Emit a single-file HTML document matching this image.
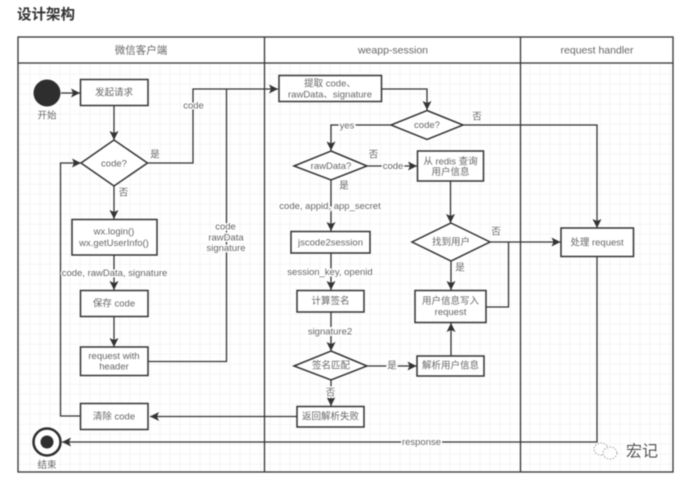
<!DOCTYPE html>
<html>
<head>
<meta charset="utf-8">
<style>
html,body{margin:0;padding:0;background:#fff;width:680px;height:481px;overflow:hidden}
svg{display:block;filter:blur(.55px)}
text{font-family:"Liberation Sans","Noto Sans CJK SC",sans-serif;font-size:9.5px;fill:#666;text-anchor:middle;dominant-baseline:central}
.l{fill:none;stroke:#333;stroke-width:1.3}
.n{fill:#fff;stroke:#333;stroke-width:1.5}
.h{font-size:10.5px}
.bg{stroke:#fff;stroke-width:3px;paint-order:stroke}
</style>
</head>
<body>
<svg width="680" height="481" viewBox="0 0 680 481" xmlns="http://www.w3.org/2000/svg">
<defs>
<pattern id="g" width="40" height="40" patternUnits="userSpaceOnUse" x="20" y="64">
<path d="M10 0V40M20 0V40M30 0V40M0 10H40M0 20H40M0 30H40" stroke="#f5f5f5" stroke-width="1" fill="none"/>
<path d="M0 0V40M0 0H40" stroke="#ececec" stroke-width="1" fill="none"/>
</pattern>
<marker id="a" markerUnits="userSpaceOnUse" markerWidth="10" markerHeight="10" refX="9" refY="4.5" orient="auto">
<path d="M0 0L9 4.5L0 9L2 4.5Z" fill="#333"/>
</marker>
</defs>

<text x="17" y="15.500" style="font-size:14.500px;font-weight:700;fill:#333;text-anchor:start">设计架构</text>

<rect x="18" y="63" width="655" height="409" fill="url(#g)"/>
<rect x="18" y="37" width="655" height="435" fill="none" stroke="#333" stroke-width="1.3"/>
<path d="M18 63H673M264.500 37V472M520.500 37V472" fill="none" stroke="#333" stroke-width="1.3"/>
<text class="h" x="141" y="50.500">微信客户端</text>
<text class="h" x="393" y="50.500">weapp-session</text>
<text class="h" x="597" y="50.500">request handler</text>

<!-- connectors -->
<path class="l" d="M61 93H80" marker-end="url(#a)"/>
<path class="l" d="M114 105.500V140" marker-end="url(#a)"/>
<path class="l" d="M147 163H193V89H278" marker-end="url(#a)"/>
<path class="l" d="M114 186V219" marker-end="url(#a)"/>
<path class="l" d="M114 255V290" marker-end="url(#a)"/>
<path class="l" d="M114 316.500V347" marker-end="url(#a)"/>
<path class="l" d="M148 361.500H226.500V89"/>
<path class="l" d="M80.500 416H60.500V163H81" marker-end="url(#a)"/>
<path class="l" d="M297 416.500H150" marker-end="url(#a)"/>
<path class="l" d="M597 256V442H62" marker-end="url(#a)"/>

<path class="l" d="M381.500 89H427V110" marker-end="url(#a)"/>
<path class="l" d="M391 125H331V150.500" marker-end="url(#a)"/>
<path class="l" d="M463 125H597V228" marker-end="url(#a)"/>
<path class="l" d="M367 166H417" marker-end="url(#a)"/>
<path class="l" d="M331 180V231" marker-end="url(#a)"/>
<path class="l" d="M450.500 181V223" marker-end="url(#a)"/>
<path class="l" d="M490 242H560.500" marker-end="url(#a)"/>
<path class="l" d="M486 307H508.500V242"/>
<path class="l" d="M451 261V290" marker-end="url(#a)"/>
<path class="l" d="M451 356V323" marker-end="url(#a)"/>
<path class="l" d="M331 253V290" marker-end="url(#a)"/>
<path class="l" d="M331 312V351" marker-end="url(#a)"/>
<path class="l" d="M367 366H416.500" marker-end="url(#a)"/>
<path class="l" d="M331 380V406" marker-end="url(#a)"/>

<!-- swimlane 1 nodes -->
<circle cx="47" cy="93" r="13.500" fill="#2e2e2e"/>
<text x="47" y="116">开始</text>
<rect class="n" x="80.500" y="79.500" width="67.500" height="26"/>
<text x="114" y="93">发起请求</text>
<polygon class="n" points="114,140 147.500,163 114,186 81,163"/>
<text x="114" y="164">code?</text>
<rect class="n" x="72" y="219.500" width="85" height="35.500"/>
<text x="114" y="232">wx.login()</text>
<text x="114" y="243.500">wx.getUserInfo()</text>
<rect class="n" x="80.500" y="290.500" width="67.500" height="26"/>
<text x="114" y="304">保存 code</text>
<rect class="n" x="80.500" y="347" width="67.500" height="28.500"/>
<text x="114" y="356.500">request with</text>
<text x="114" y="367">header</text>
<rect class="n" x="80.500" y="403.500" width="67.500" height="26"/>
<text x="114" y="417">清除 code</text>
<circle cx="47" cy="442" r="13.500" fill="#fff" stroke="#2e2e2e" stroke-width="2.500"/>
<circle cx="47" cy="442" r="6.500" fill="#2e2e2e"/>
<text x="47" y="465.500">结束</text>

<text x="155" y="155">是</text>
<text x="123.500" y="193">否</text>
<text class="bg" x="193.500" y="106">code</text>
<text class="bg" x="225.500" y="227">code</text>
<text class="bg" x="226" y="238">rawData</text>
<text class="bg" x="226" y="248.500">signature</text>
<text class="bg" x="114.500" y="273.500">code, rawData, signature</text>

<!-- swimlane 2 nodes -->
<rect class="n" x="279" y="75.500" width="102.500" height="26"/>
<text x="330" y="84">提取 code、</text>
<text x="330" y="95">rawData、signature</text>
<polygon class="n" points="427,110.500 463,125 427,139.500 391,125"/>
<text x="427" y="125.500">code?</text>
<polygon class="n" points="331,151 367,166 331,180 294,166"/>
<text x="331" y="166.500">rawData?</text>
<rect class="n" x="417.500" y="151" width="66" height="30"/>
<text x="450.500" y="162">从 redis 查询</text>
<text x="450.500" y="172.500">用户信息</text>
<polygon class="n" points="451,223 490,242 451,261 412,242"/>
<text x="451" y="242.500">找到用户</text>
<rect class="n" x="291" y="231.500" width="79" height="21.500"/>
<text x="330.500" y="243">jscode2session</text>
<rect class="n" x="297" y="290.500" width="67" height="21.500"/>
<text x="330.500" y="301.500">计算签名</text>
<rect class="n" x="415" y="290.500" width="71" height="32"/>
<text x="450.500" y="301.500">用户信息写入</text>
<text x="450.500" y="312.500">request</text>
<polygon class="n" points="331,351 367,366 331,380 294,366"/>
<text x="331" y="366">签名匹配</text>
<rect class="n" x="417" y="356" width="67" height="20"/>
<text x="450.500" y="366">解析用户信息</text>
<rect class="n" x="297" y="406.500" width="67" height="20.500"/>
<text x="330.500" y="417">返回解析失败</text>

<text class="bg" x="347" y="126">yes</text>
<text x="477" y="117">否</text>
<text x="373.500" y="155">否</text>
<text class="bg" x="393" y="166.500">code</text>
<text x="344" y="186">是</text>
<text class="bg" x="330" y="206.500">code, appid, app_secret</text>
<text x="496" y="232">否</text>
<text x="460" y="268">是</text>
<text class="bg" x="330" y="272.500">session_key, openid</text>
<text class="bg" x="330" y="332">signature2</text>
<text class="bg" x="392" y="366">是</text>
<text class="bg" x="330.500" y="393">否</text>
<text class="bg" x="421.500" y="442.500">response</text>

<!-- swimlane 3 nodes -->
<rect class="n" x="561" y="228" width="72.500" height="28.500"/>
<text x="597" y="243">处理 request</text>

<!-- watermark -->
<g fill="none" stroke="#888" stroke-width=".8" stroke-dasharray="1.500 1.500">
<ellipse cx="601" cy="449" rx="7" ry="6" fill="#fff" fill-opacity=".8"/>
<ellipse cx="610" cy="453" rx="7" ry="6" fill="#fff" fill-opacity=".8"/>
</g>
<text x="642" y="452" style="font-size:16px;fill:#555;stroke:#fff;stroke-width:2px;paint-order:stroke">宏记</text>
</svg>
</body>
</html>
